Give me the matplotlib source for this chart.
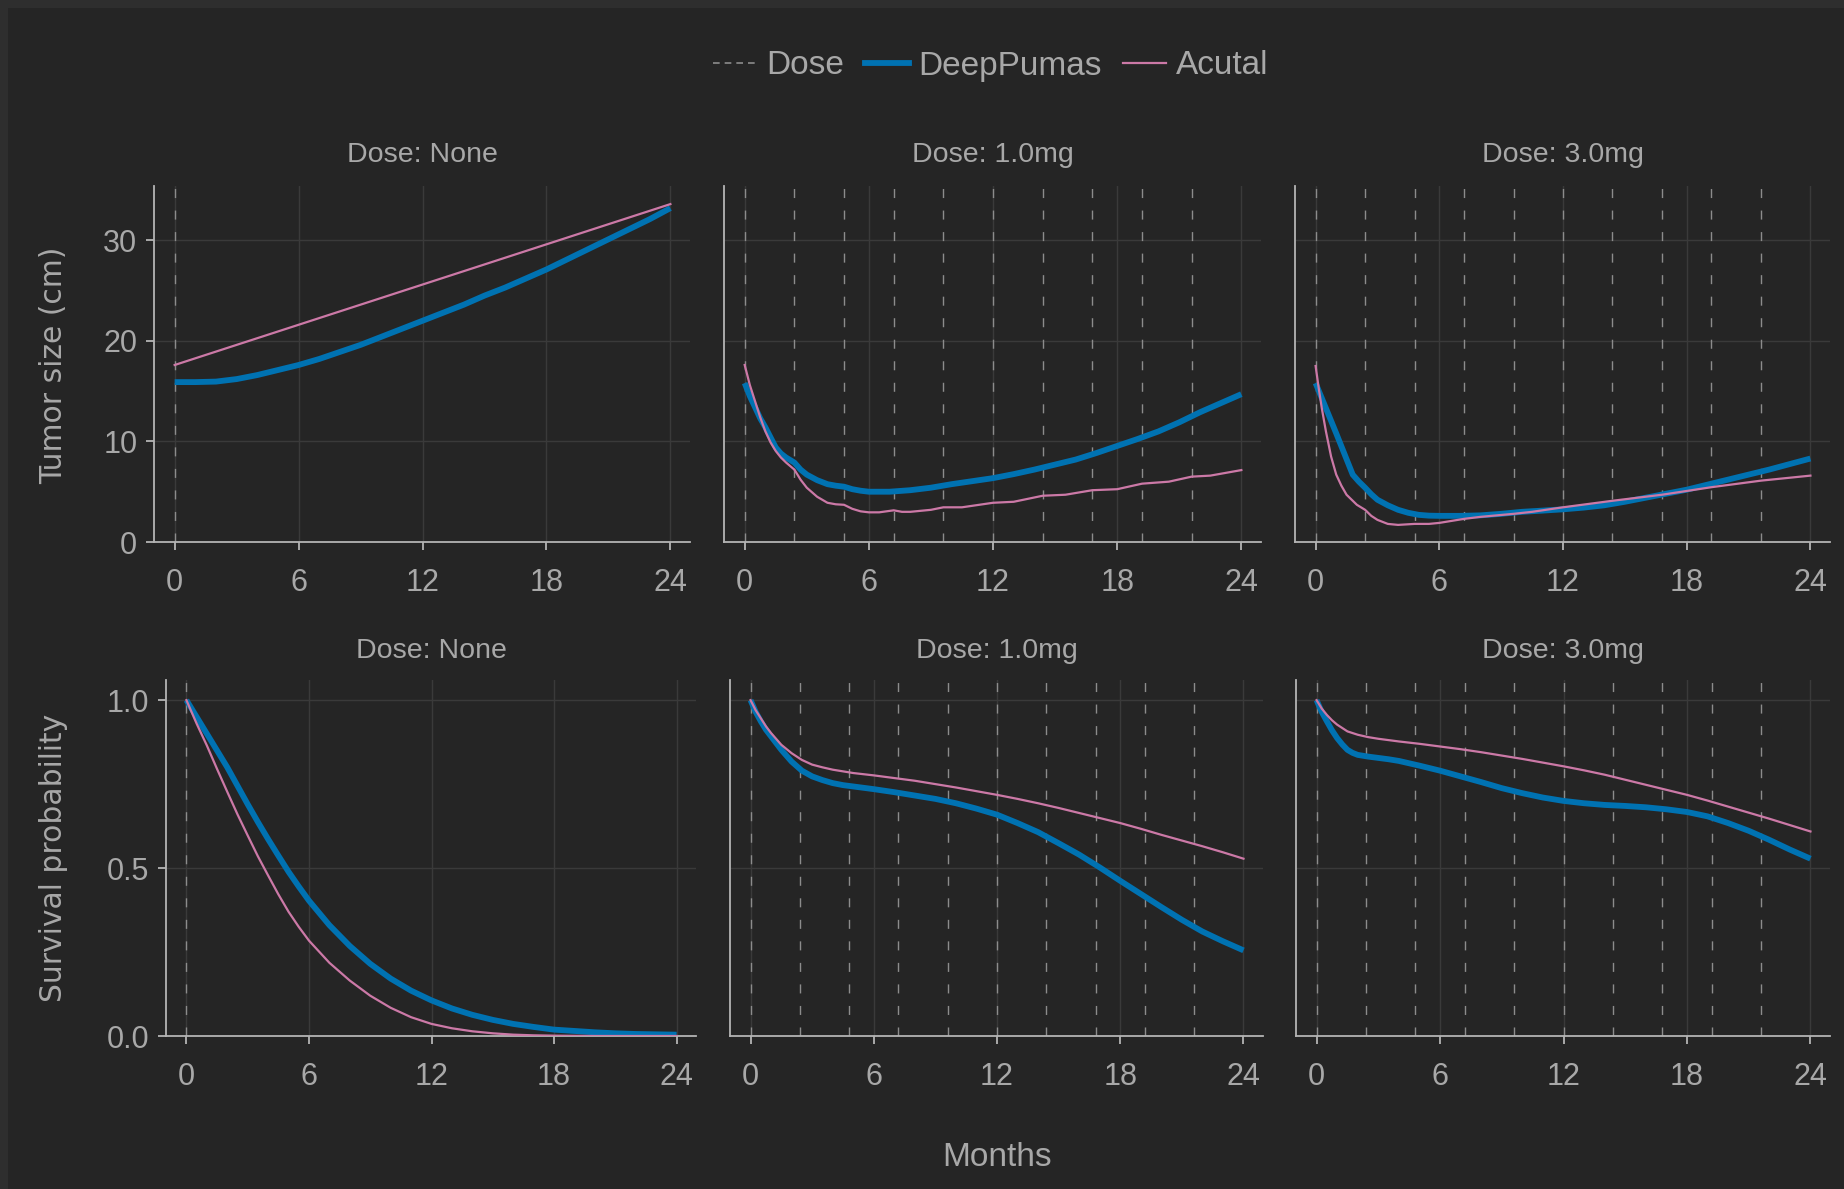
import matplotlib
matplotlib.use("Agg")
import matplotlib.pyplot as plt
from matplotlib.lines import Line2D
from matplotlib.patches import Rectangle

BG = "#252525"
EDGE = "#2e2e2e"
TXT = "#a8a8a8"
GRID = "#3a3a3a"
SPINE = "#b4b4b4"
BLUE = "#0072B2"
PINK = "#CC79A7"
DOSE_C = "#8c8c8c"

FONT = "Liberation Sans"

# dose schedules (months)
dose_none = [0.0]
dose_sched = [0.0, 2.4, 4.8, 7.2, 9.6, 12.0, 14.4, 16.8, 19.2, 21.6]
panel_titles = ["Dose: None", "Dose: 1.0mg", "Dose: 3.0mg"]

# tumor size (cm) - no dose
tum_none_t_deep = [0, 1, 2, 3, 4, 5, 6, 7, 8, 9, 10, 11, 12, 13, 14, 15, 16, 17, 18, 19, 20, 21,
                   22, 23, 24]
tum_none_deep = [15.9, 15.9, 15.95, 16.2, 16.6, 17.1, 17.6, 18.2, 18.9, 19.6, 20.4, 21.2, 22.0,
                 22.8, 23.6, 24.5, 25.3, 26.2, 27.1, 28.1, 29.1, 30.1, 31.1, 32.1, 33.2]
tum_none_t_act = [0, 6, 12, 18, 24]
tum_none_act = [17.6, 21.6, 25.6, 29.6, 33.6]

# tumor size (cm) - 1.0mg
tum_1mg_t_deep = [0, 0.25, 0.5, 0.75, 1, 1.25, 1.5, 1.75, 2, 2.4, 2.7, 3, 3.5, 4, 4.4, 4.8, 5.2,
                  5.6, 6, 7, 8, 9, 10, 11, 12, 13, 14, 15, 16, 17, 18, 19, 20, 21, 22, 23, 24]
tum_1mg_deep = [15.8, 14.5, 13.4, 12.3, 11.4, 10.4, 9.4, 8.8, 8.4, 7.9, 7.2, 6.7, 6.15, 5.75, 5.6,
                5.5, 5.25, 5.1, 5.0, 5.0, 5.15, 5.4, 5.75, 6.05, 6.35, 6.75, 7.2, 7.7, 8.2, 8.85,
                9.55, 10.25, 11.0, 11.9, 12.9, 13.8, 14.7]
tum_1mg_t_act = [0, 0.25, 0.5, 0.75, 1, 1.25, 1.5, 1.75, 2, 2.4, 2.7, 3, 3.5, 4, 4.4, 4.8, 5.2,
                 5.6, 6, 6.5, 7.2, 7.6, 8, 9, 9.6, 10.5, 12, 13, 14.4, 15.5, 16.8, 18, 19.2, 20.5,
                 21.6, 22.5, 24]
tum_1mg_act = [17.6, 15.6, 14.0, 12.4, 11.0, 9.9, 9.05, 8.4, 7.9, 7.2, 6.2, 5.4, 4.5, 3.9, 3.75,
               3.7, 3.3, 3.05, 2.95, 2.95, 3.15, 3.0, 3.0, 3.2, 3.45, 3.45, 3.9, 4.0, 4.6, 4.7,
               5.15, 5.25, 5.8, 6.0, 6.5, 6.6, 7.15]

# tumor size (cm) - 3.0mg
tum_3mg_t_deep = [0, 1, 1.8, 2.1, 2.4, 2.7, 3, 3.5, 4, 4.5, 5, 5.5, 6, 7, 8, 9, 10, 11, 12, 13, 14,
                  15, 16, 17, 18, 19, 20, 21, 22, 23, 24]
tum_3mg_deep = [15.8, 10.8, 6.7, 6.0, 5.4, 4.75, 4.2, 3.65, 3.2, 2.9, 2.7, 2.62, 2.6, 2.6, 2.65,
                2.8, 3.0, 3.12, 3.25, 3.42, 3.65, 4.0, 4.4, 4.8, 5.2, 5.7, 6.2, 6.7, 7.2, 7.75, 8.3]
tum_3mg_t_act = [0, 0.15, 0.3, 0.5, 0.75, 1, 1.25, 1.5, 2, 2.4, 2.7, 3, 3.5, 4, 4.8, 5.5, 6, 7.2,
                 8, 9.6, 10.5, 12, 14.4, 16.8, 19.2, 21.6, 24]
tum_3mg_act = [17.5, 15.3, 13.3, 11.0, 8.5, 6.7, 5.6, 4.7, 3.7, 3.2, 2.6, 2.2, 1.8, 1.7, 1.8,
               1.8, 1.9, 2.3, 2.5, 2.8, 3.0, 3.45, 4.1, 4.7, 5.45, 6.1, 6.6]

# survival probability - no dose
surv_none_t_deep = [0, 0.5, 1, 1.5, 2, 2.5, 3, 3.5, 4, 4.5, 5, 5.5, 6, 7, 8, 9, 10, 11, 12, 13,
                    14, 15, 16, 17, 18, 19, 20, 21, 22, 23, 24]
surv_none_deep = [1.0, 0.95, 0.9, 0.85, 0.80, 0.745, 0.69, 0.637, 0.586, 0.537, 0.489, 0.445,
                  0.403, 0.33, 0.268, 0.215, 0.171, 0.135, 0.106, 0.082, 0.063, 0.048, 0.036,
                  0.027, 0.019, 0.015, 0.011, 0.008, 0.006, 0.005, 0.004]
surv_none_t_act = [0, 0.5, 1, 1.5, 2, 2.5, 3, 3.5, 4, 4.5, 5, 5.5, 6, 7, 8, 9, 10, 11, 12, 13, 14,
                   15, 16, 17, 18, 20, 22, 24]
surv_none_act = [1.0, 0.93, 0.865, 0.795, 0.727, 0.66, 0.597, 0.535, 0.478, 0.422, 0.37, 0.325,
                 0.284, 0.218, 0.165, 0.12, 0.084, 0.056, 0.036, 0.023, 0.014, 0.008, 0.004,
                 0.002, 0.001, 0.0, 0.0, 0.0]

# survival probability - 1.0mg
surv_1mg_t_deep = [0, 0.25, 0.5, 0.75, 1, 1.5, 2, 2.5, 3, 3.5, 4, 4.5, 5, 5.5, 6, 7, 8, 9, 10, 11,
                   12, 13, 14, 15, 16, 17, 18, 19, 20, 21, 22, 23, 24]
surv_1mg_deep = [1.0, 0.965, 0.937, 0.912, 0.892, 0.852, 0.817, 0.79, 0.773, 0.762, 0.753, 0.747,
                 0.743, 0.739, 0.735, 0.726, 0.716, 0.706, 0.693, 0.677, 0.659, 0.634, 0.607,
                 0.574, 0.540, 0.502, 0.462, 0.423, 0.384, 0.346, 0.311, 0.282, 0.255]
surv_1mg_t_act = [0, 0.25, 0.5, 0.75, 1, 1.5, 2, 2.5, 3, 3.5, 4, 5, 6, 7, 8, 9, 10, 11, 12, 13,
                  14, 15, 16, 17, 18, 19, 20, 21, 22, 23, 24]
surv_1mg_act = [1.0, 0.97, 0.946, 0.922, 0.902, 0.867, 0.842, 0.822, 0.808, 0.8, 0.793, 0.783,
                0.776, 0.768, 0.760, 0.75, 0.740, 0.729, 0.718, 0.706, 0.693, 0.679, 0.664,
                0.649, 0.634, 0.617, 0.599, 0.582, 0.565, 0.547, 0.528]

# survival probability - 3.0mg
surv_3mg_t_deep = [0, 0.25, 0.5, 0.75, 1, 1.25, 1.5, 1.75, 2, 2.5, 3, 3.5, 4, 5, 6, 7, 8, 9, 10,
                   11, 12, 13, 14, 15, 16, 17, 18, 19, 20, 21, 22, 23, 24]
surv_3mg_deep = [1.0, 0.965, 0.937, 0.91, 0.887, 0.868, 0.852, 0.843, 0.837, 0.832, 0.828, 0.824,
                 0.819, 0.805, 0.790, 0.773, 0.756, 0.738, 0.723, 0.710, 0.700, 0.693, 0.688,
                 0.685, 0.681, 0.675, 0.667, 0.654, 0.634, 0.611, 0.584, 0.555, 0.528]
surv_3mg_t_act = [0, 0.25, 0.5, 0.75, 1, 1.5, 2, 2.5, 3, 4, 5, 6, 7, 8, 9, 10, 11, 12, 13, 14, 15,
                  16, 17, 18, 19, 20, 21, 22, 23, 24]
surv_3mg_act = [1.0, 0.975, 0.956, 0.94, 0.927, 0.907, 0.897, 0.89, 0.885, 0.877, 0.87, 0.862,
                0.854, 0.845, 0.835, 0.825, 0.814, 0.803, 0.791, 0.778, 0.763, 0.748, 0.733,
                0.718, 0.701, 0.683, 0.665, 0.647, 0.628, 0.609]

tumor_panels = [
    (tum_none_t_deep, tum_none_deep, tum_none_t_act, tum_none_act, dose_none),
    (tum_1mg_t_deep, tum_1mg_deep, tum_1mg_t_act, tum_1mg_act, dose_sched),
    (tum_3mg_t_deep, tum_3mg_deep, tum_3mg_t_act, tum_3mg_act, dose_sched),
]
surv_panels = [
    (surv_none_t_deep, surv_none_deep, surv_none_t_act, surv_none_act, dose_none),
    (surv_1mg_t_deep, surv_1mg_deep, surv_1mg_t_act, surv_1mg_act, dose_sched),
    (surv_3mg_t_deep, surv_3mg_deep, surv_3mg_t_act, surv_3mg_act, dose_sched),
]

W, H = 1844, 1189
fig = plt.figure(figsize=(W / 100, H / 100), dpi=100, facecolor=EDGE)
fig.patches.append(Rectangle((8 / W, 0), 1, 1 - 8 / H, transform=fig.transFigure,
                             facecolor=BG, edgecolor="none", zorder=-10))


def px_axes(left, top, right, bottom):
    return fig.add_axes([left / W, 1 - bottom / H, (right - left) / W, (bottom - top) / H])


def style_axes(ax, first_col):
    ax.set_facecolor("none")
    for s in ("top", "right"):
        ax.spines[s].set_visible(False)
    for s in ("left", "bottom"):
        ax.spines[s].set_color(SPINE)
        ax.spines[s].set_linewidth(1.3)
    ax.set_xlim(-1.0, 24.95)
    ax.set_xticks([0, 6, 12, 18, 24])
    ax.grid(True, color=GRID, linewidth=1.0)
    ax.set_axisbelow(True)
    ax.tick_params(axis="x", direction="out", length=6, width=1.3, color=SPINE,
                   labelcolor=TXT, labelsize=22, pad=12.5)
    ax.tick_params(axis="y", direction="out", length=6, width=1.3, color=SPINE,
                   labelcolor=TXT, labelsize=22, pad=6)
    if not first_col:
        ax.tick_params(axis="y", length=0, labelleft=False)
    for lab in ax.get_xticklabels() + ax.get_yticklabels():
        lab.set_fontfamily(FONT)


def draw_panel(ax, td, deep, ta, act, doses):
    for d in doses:
        ax.axvline(d, color=DOSE_C, linewidth=1.0, dashes=(6.5, 9.0), zorder=1)
    ax.plot(td, deep, color=BLUE, linewidth=4.2, solid_capstyle="butt",
            solid_joinstyle="round", zorder=3)
    ax.plot(ta, act, color=PINK, linewidth=1.6, solid_joinstyle="round", zorder=4)


top_boxes = [(154, 186, 690, 542), (724, 186, 1261, 542), (1295, 186, 1830, 542)]
bot_boxes = [(166, 680, 696, 1036), (730, 680, 1263, 1036), (1296, 680, 1830, 1036)]

for i, (box, data) in enumerate(zip(top_boxes, tumor_panels)):
    ax = px_axes(*box)
    draw_panel(ax, *data)
    ax.set_ylim(0, 35.4)
    ax.set_yticks([0, 10, 20, 30])
    style_axes(ax, i == 0)
    cx = (box[0] + box[2]) / 2
    fig.text(cx / W, 1 - 155.5 / H, panel_titles[i], ha="center", va="center",
             color=TXT, fontsize=20.5, family=FONT)

for i, (box, data) in enumerate(zip(bot_boxes, surv_panels)):
    ax = px_axes(*box)
    draw_panel(ax, *data)
    ax.set_ylim(0, 1.06)
    ax.set_yticks([0, 0.5, 1.0])
    ax.set_yticklabels(["0.0", "0.5", "1.0"])
    style_axes(ax, i == 0)
    cx = (box[0] + box[2]) / 2
    fig.text(cx / W, 1 - 650.5 / H, panel_titles[i], ha="center", va="center",
             color=TXT, fontsize=20.5, family=FONT)

fig.text(54 / W, 1 - 365 / H, "Tumor size (cm)", rotation=90, ha="center", va="center",
         color=TXT, fontsize=21.4, family="DejaVu Sans")
fig.text(54 / W, 1 - 858 / H, "Survival probability", rotation=90, ha="center", va="center",
         color=TXT, fontsize=21.4, family="DejaVu Sans")
fig.text(997 / W, 1 - 1157 / H, "Months", ha="center", va="center",
         color=TXT, fontsize=24, family=FONT)

handles = [
    Line2D([], [], color=DOSE_C, linewidth=1.2, dashes=(4, 3)),
    Line2D([], [], color=BLUE, linewidth=4.2),
    Line2D([], [], color=PINK, linewidth=1.6),
]
leg = fig.legend(handles, ["Dose", "DeepPumas", "Acutal"], loc="center",
                 bbox_to_anchor=(991 / W, 1 - 66 / H), ncol=3, frameon=False,
                 handlelength=1.3, handletextpad=0.3, columnspacing=0.62,
                 prop={"family": FONT, "size": 24})
for t in leg.get_texts():
    t.set_color(TXT)

fig.savefig("out.png", dpi=100, facecolor=fig.get_facecolor())
